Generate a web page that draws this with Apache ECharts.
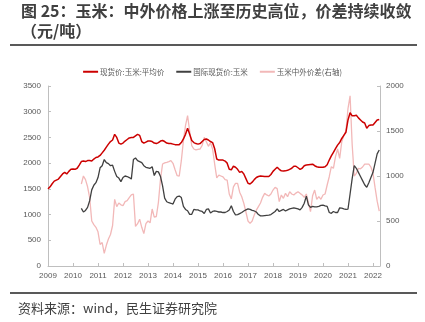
<!DOCTYPE html>
<html>
<head>
<meta charset="utf-8">
<script src="https://cdn.jsdelivr.net/npm/echarts@6/dist/echarts.min.js"></script>
<style>
  html, body { margin: 0; padding: 0; background: #fff; }
  #chart { width: 425px; height: 322px; }
</style>
</head>
<body>
<div id="chart"></div>
<script>
// 现货价:玉米:平均价 (元/吨), monthly from 2009-01
const spotStart = [2009, 1];
const spotPrice = [
  1500, 1540, 1600, 1650, 1670, 1690, 1740, 1790, 1820, 1790, 1840, 1880,
  1885, 1880, 1900, 1960, 2030, 2040, 2030, 2050, 2050, 2040, 2080, 2110,
  2120, 2150, 2200, 2250, 2310, 2370, 2420, 2450, 2560, 2500, 2390, 2370,
  2390, 2430, 2460, 2490, 2500, 2500, 2530, 2560, 2540, 2420, 2390, 2410,
  2430, 2430, 2420, 2390, 2380, 2400, 2430, 2440, 2420, 2390, 2380, 2380,
  2370, 2360, 2360, 2360, 2400, 2470, 2560, 2680, 2560, 2440, 2400, 2380,
  2370, 2380, 2420, 2460, 2470, 2450, 2420, 2400, 2280, 2080, 2060, 2060,
  2060, 2040, 2000, 1880, 1870, 1940, 1920, 1880, 1820, 1840, 1790, 1700,
  1610, 1595, 1630, 1680, 1720, 1740, 1750, 1745, 1740, 1740, 1740, 1780,
  1840, 1880, 1920, 1880, 1850, 1845, 1850, 1860, 1880, 1900, 1940, 1940,
  1910, 1880, 1900, 1950, 1965, 1970, 1975, 1980, 1950, 1930, 1920, 1920,
  1920, 1930, 1970, 2060, 2140, 2210, 2280, 2350, 2400, 2480, 2540, 2600,
  2840, 2980, 2920, 2920, 2930, 2880, 2840, 2800, 2780, 2680, 2730, 2740,
  2740, 2790, 2840, 2850
];

// 国际现货价:玉米 (元/吨), monthly from 2010-05
const intlStart = [2010, 5];
const intlPrice = [
  1120, 1050, 1080, 1140, 1270, 1480, 1570, 1620,
  1720, 1910, 1950, 2070, 2010, 1990, 1950, 1960, 1840, 1740, 1710, 1640,
  1720, 1750, 1740, 1720, 1690, 2070, 2100, 2050, 2030, 2010, 1950, 1920,
  1910, 1900, 1930, 1760, 1840, 1830, 1740, 1560, 1320, 1250, 1230, 1220,
  1205, 1300, 1350, 1360, 1330, 1160, 1100, 1075, 1005, 1005, 1100, 1090,
  1090, 1070, 1060, 1020, 1100, 1110, 1030, 1060, 1070, 1060, 1050, 1050,
  1040, 1040, 1060, 1090, 1170, 1060, 995, 1000, 1020, 1040, 1070, 1090,
  1110, 1100, 1080, 1070, 1050, 1000, 975, 975, 980, 985, 990, 1000,
  1030, 1060, 1110, 1060, 1080, 1100, 1070, 1090, 1110, 1120, 1130, 1120,
  1110, 1090, 1140, 1220, 1360, 1190, 1140, 1160, 1150, 1150, 1160, 1180,
  1185, 1170, 1160, 1040, 1024, 1060, 1040, 1040, 1130, 1125, 1110, 1100,
  1108, 1400, 1700, 1950, 1900, 1820, 1740, 1660, 1580, 1530, 1620, 1720,
  1822, 2000, 2180, 2255
];

// 玉米中外价差 (右轴), monthly from 2010-05
const gapStart = [2010, 5];
const priceGap = [
  911, 1000, 960, 880, 760, 500, 460, 430,
  380, 240, 260, 140, 230, 300, 350, 450, 740, 660, 700, 680,
  670, 715, 726, 760, 790, 800, 440, 470, 520, 430, 360, 470,
  500, 480, 633, 544, 550, 707, 966, 1133, 1145, 1152, 1160, 1170,
  1141, 1070, 1003, 1000, 1170, 1393, 1559, 1670, 1500, 1337, 1300, 1290,
  1295, 1300, 1340, 1430, 1380, 1330, 1370, 1300, 1133, 980, 1010, 1000,
  990, 960, 955, 800, 745, 880, 918, 918, 820, 770, 696, 600,
  500, 474, 500, 567, 620, 660, 700, 763, 807, 790, 778, 800,
  844, 874, 860, 715, 789, 752, 807, 770, 826, 800, 789, 810,
  826, 807, 790, 763, 800, 700, 604, 780, 844, 741, 770, 741,
  789, 800, 900, 992, 1104, 1085, 1215, 1300, 1196, 1380, 1450, 1500,
  1750, 1890, 1350, 1000, 1030, 1085, 1080, 1100, 1133, 1133, 1133, 1100,
  1030, 870, 720, 610
];

const seriesNames = ['现货价:玉米:平均价', '国际现货价:玉米', '玉米中外价差(右轴)'];
const leftTicks = { min: 0, max: 3500, interval: 500 };
const rightTicks = { min: 0, max: 2000, interval: 500 };
const yearRange = { min: 2009, max: 2022.28 };

// month index -> decimal year on the value axis
function toPoints(start, values) {
  return values.map((v, i) => [start[0] + (start[1] - 1 + i) / 12, v]);
}

const axisGray = '#bfbfbf';
const labelGray = '#595959';
const numFont = 'Liberation Sans, Arial, sans-serif';
const cjkFont = 'Noto Sans CJK SC, sans-serif';
const plainNumber = v => String(v);

const chart = echarts.init(document.getElementById('chart'), null, { renderer: 'canvas' });

chart.setOption({
  animation: false,
  backgroundColor: '#ffffff',
  title: {
    text: '图 25：玉米：中外价格上涨至历史高位，价差持续收敛\n（元/吨）',
    left: 16,
    top: -4,
    textStyle: {
      fontFamily: cjkFont,
      fontSize: 16,
      fontWeight: 'bold',
      color: '#404040',
      lineHeight: 20
    }
  },
  graphic: [
    { type: 'line', shape: { x1: 10, y1: 45, x2: 417, y2: 45 }, style: { stroke: '#595959', lineWidth: 2 } },
    { type: 'line', shape: { x1: 10, y1: 293, x2: 417, y2: 293 }, style: { stroke: '#595959', lineWidth: 2 } },
    {
      type: 'text', left: 18, top: 302,
      style: { text: '资料来源：wind，民生证券研究院', font: '13px ' + cjkFont, fill: '#404040' }
    }
  ],
  legend: {
    data: seriesNames,
    top: 63,
    left: 'center',
    icon: 'rect',
    itemWidth: 15,
    itemHeight: 2,
    itemGap: 12,
    textStyle: { fontFamily: cjkFont, fontSize: 7.5, color: labelGray, padding: [0, 0, 0, -3] }
  },
  grid: { left: 48, right: 45, top: 86, bottom: 56, containLabel: false },
  xAxis: {
    type: 'value',
    min: yearRange.min,
    max: yearRange.max,
    interval: 1,
    axisLine: { show: true, lineStyle: { color: axisGray, width: 1 } },
    axisTick: { show: true, inside: true, length: 3, lineStyle: { color: axisGray } },
    splitLine: { show: false },
    axisLabel: {
      color: labelGray, fontSize: 8, fontFamily: numFont, margin: 6,
      formatter: v => (Math.abs(v - Math.round(v)) < 1e-6 ? String(Math.round(v)) : '')
    }
  },
  yAxis: [
    {
      type: 'value',
      min: leftTicks.min, max: leftTicks.max, interval: leftTicks.interval,
      axisLine: { show: true, lineStyle: { color: axisGray } },
      axisTick: { show: true, inside: true, length: 3, lineStyle: { color: axisGray } },
      splitLine: { show: false },
      axisLabel: { color: labelGray, fontSize: 8, fontFamily: numFont, margin: 7, formatter: plainNumber }
    },
    {
      type: 'value',
      position: 'right',
      min: rightTicks.min, max: rightTicks.max, interval: rightTicks.interval,
      axisLine: { show: true, lineStyle: { color: axisGray } },
      axisTick: { show: true, inside: true, length: 3, lineStyle: { color: axisGray } },
      splitLine: { show: false },
      axisLabel: { color: labelGray, fontSize: 8, fontFamily: numFont, margin: 6, formatter: plainNumber }
    }
  ],
  series: [
    {
      name: seriesNames[0], type: 'line', yAxisIndex: 0, z: 4,
      data: toPoints(spotStart, spotPrice),
      showSymbol: false, symbol: 'none',
      lineStyle: { color: '#cc0000', width: 1.5 }, itemStyle: { color: '#cc0000' }
    },
    {
      name: seriesNames[1], type: 'line', yAxisIndex: 0, z: 3,
      data: toPoints(intlStart, intlPrice),
      showSymbol: false, symbol: 'none',
      lineStyle: { color: '#404040', width: 1.3 }, itemStyle: { color: '#404040' }
    },
    {
      name: seriesNames[2], type: 'line', yAxisIndex: 1, z: 2,
      data: toPoints(gapStart, priceGap),
      showSymbol: false, symbol: 'none',
      lineStyle: { color: '#f2b8b8', width: 1.3 }, itemStyle: { color: '#f2b8b8' }
    }
  ]
});
</script>
</body>
</html>
